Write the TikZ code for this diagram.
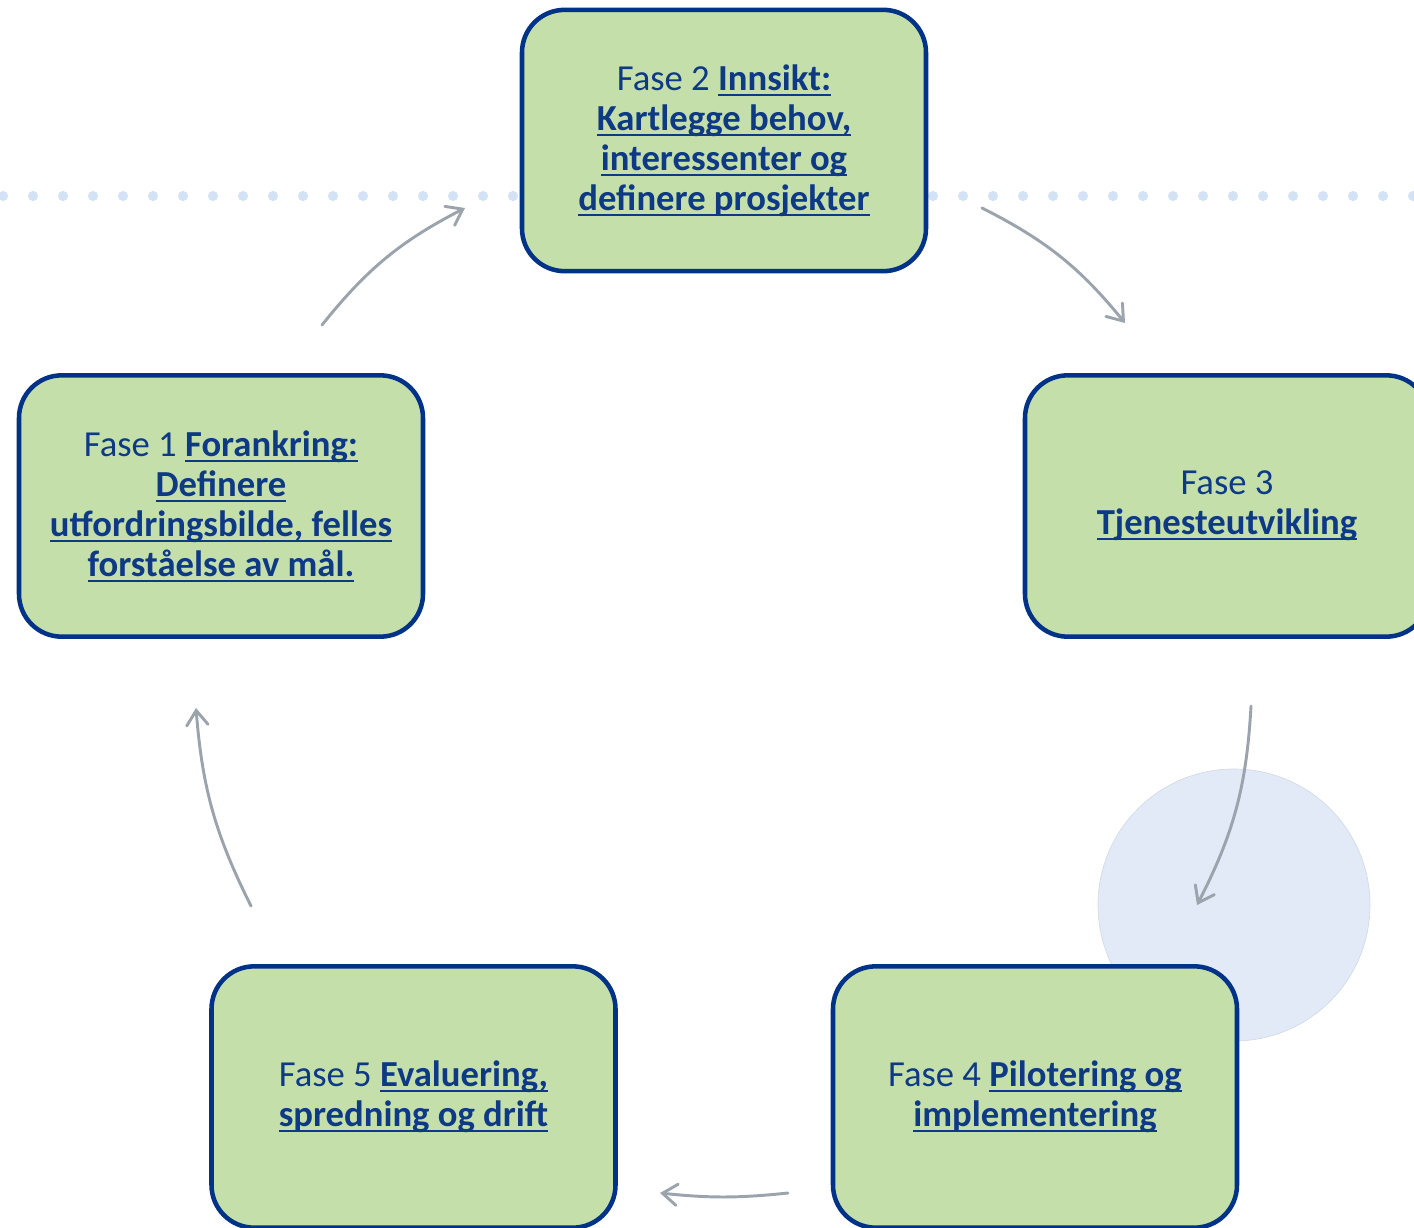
\documentclass[tikz,border=0pt]{standalone}
\usepackage{fontspec}
\setmainfont{Carlito}
\usetikzlibrary{arrows.meta}
\definecolor{fasefill}{HTML}{C4DFAA}
\definecolor{faseblue}{HTML}{003287}
\definecolor{fasetext}{HTML}{0E3A85}
\definecolor{dotblue}{HTML}{D3E2F5}
\definecolor{ringblue}{HTML}{E1EAF6}
\definecolor{arrowgray}{HTML}{9BA3AD}
\newcommand\faseul[1]{\leavevmode\setbox0\hbox{\bfseries #1}\rlap{\rule[-4.2pt]{\wd0}{1.5pt}}\box0}

\begin{document}
\begin{tikzpicture}[x=0.75pt,y=-0.75pt,
  fase/.style={draw=faseblue, line width=3.4pt, fill=fasefill, rounded corners=32pt,
    minimum width=303pt, minimum height=196pt, inner sep=0pt, align=center,
    text=fasetext, font=\fontsize{27.5}{30}\selectfont},
  cyc/.style={draw=arrowgray, line width=2.2pt, line cap=round,
    -{Straight Barb[length=11pt,width=16pt,line cap=round]}}]
\useasboundingbox (0,0) rectangle (1414,1228);
\clip (0,0) rectangle (1414,1228);
\foreach \x in {3,33,...,1413} \fill[dotblue] (\x,196) circle (3.8pt);
\filldraw[fill=ringblue, draw=ringblue!85!gray, line width=0.5pt] (1234,905) circle (102pt);

\node[fase] (f2) at (724,140.5) {Fase 2 \faseul{Innsikt:}\\ \faseul{Kartlegge behov,}\\ \faseul{interessenter og}\\ \faseul{definere prosjekter}};
\node[fase] (f1) at (221,506) {Fase 1 \faseul{Forankring:}\\ \faseul{Definere}\\ \faseul{utfordringsbilde, felles}\\ \faseul{forståelse av mål.}};
\node[fase] (f3) at (1227,506) {Fase 3\\ \faseul{Tjenesteutvikling}};
\node[fase] (f4) at (1035,1097) {Fase 4 \faseul{Pilotering og}\\ \faseul{implementering}};
\node[fase] (f5) at (413.5,1097) {Fase 5 \faseul{Evaluering,}\\ \faseul{spredning og drift}};

\coordinate (a1s) at (322,325); \coordinate (a1e) at (465,208);
\coordinate (a2s) at (982,208); \coordinate (a2e) at (1125,323);
\coordinate (a3s) at (1251,706); \coordinate (a3e) at (1197,905);
\coordinate (a4s) at (788,1193); \coordinate (a4e) at (660,1193);
\coordinate (a5s) at (251,906); \coordinate (a5e) at (196,708);
\draw[cyc] (a1s) to[bend left=12] (a1e);
\draw[cyc] (a2s) to[bend left=12] (a2e);
\draw[cyc] (a3s) to[bend left=12] (a3e);
\draw[cyc] (a4s) to[bend left=6] (a4e);
\draw[cyc] (a5s) to[bend left=11] (a5e);
\end{tikzpicture}
\end{document}
